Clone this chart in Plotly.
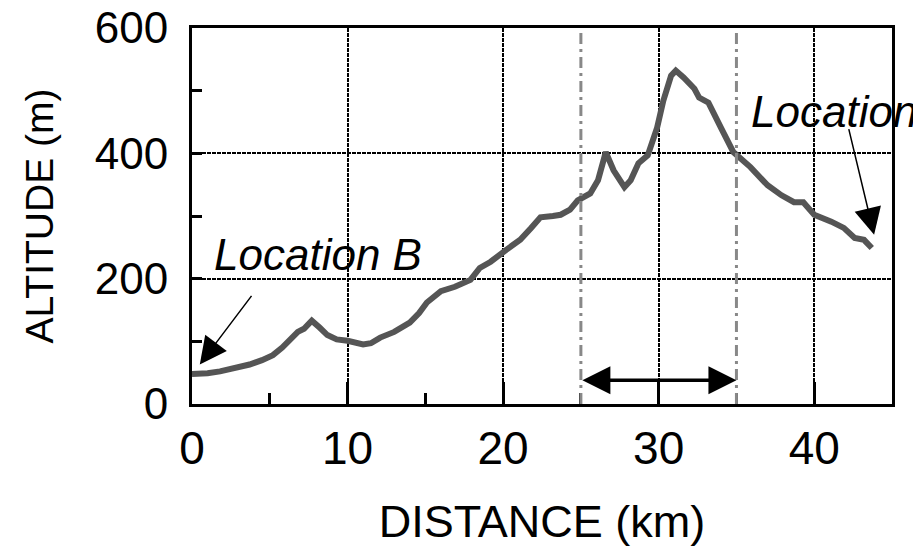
import plotly.graph_objects as go

# Altitude profile (distance km, altitude m)
distance_km = [0.0, 0.5, 1.0, 1.8, 2.8, 3.7, 4.5, 5.2, 5.8, 6.3, 6.8, 7.2, 7.7, 8.2, 8.7,
               9.3, 10.0, 11.0, 11.5, 12.1, 13.0, 14.0, 14.6, 15.1, 16.0, 16.9, 17.9,
               18.5, 19.2, 20.2, 21.1, 21.8, 22.4, 23.2, 23.7, 24.3, 24.8, 25.6, 26.1,
               26.6, 27.1, 27.8, 28.2, 28.7, 29.3, 29.9, 30.3, 30.8, 31.1, 31.6, 32.3,
               32.6, 33.2, 34.0, 34.8, 35.9, 37.0, 37.9, 38.7, 39.3, 40.0, 41.1, 41.9,
               42.6, 43.2, 43.7]
altitude_m = [48, 48, 49, 52, 57, 63, 70, 78, 90, 103, 115, 120, 133, 122, 110,
              103, 101, 95, 97, 106, 115, 130, 145, 162, 180, 187, 198,
              217, 227, 246, 262, 281, 298, 300, 302, 310, 325, 336, 357,
              402, 373, 346, 357, 384, 397, 441, 484, 524, 532, 521, 503,
              489, 481, 441, 402, 378, 349, 333, 322, 322, 302, 291, 281,
              265, 262, 249]

# Section of interest and annotation values
section_km = [25, 35]
section_arrow_alt = 38
x_range = [0, 45]
y_range = [0, 600]
x_ticks = [0, 10, 20, 30, 40]
y_ticks = [0, 200, 400, 600]

# Labels (text, text position, arrow tail, arrow head)
loc_b = dict(text="Location B", tx=1.3, ty=239, tail=(3.9, 175), head=(0.5, 63))
loc_a = dict(text="Location A", tx=35.8, ty=466, tail=(42.2, 441), head=(43.85, 270))

FONT = "Liberation Sans, Arial, sans-serif"

fig = go.Figure()

fig.add_trace(go.Scatter(
    x=distance_km, y=altitude_m, mode="lines",
    line=dict(color="#555555", width=6, shape="linear"),
    hoverinfo="skip", showlegend=False,
))

for xv in section_km:
    fig.add_shape(type="line", xref="x", yref="paper", x0=xv, x1=xv, y0=0, y1=1,
                  line=dict(color="#888888", width=3, dash="11px,5px,3px,5px"),
                  layer="above")

# double arrow
fig.add_annotation(x=section_km[1], y=section_arrow_alt, ax=section_km[0], ay=section_arrow_alt,
                   xref="x", yref="y", axref="x", ayref="y", text="", showarrow=True,
                   arrowhead=2, startarrowhead=2, arrowside="end+start",
                   arrowsize=1.6, startarrowsize=1.6, arrowwidth=3.5, arrowcolor="black")

for loc in (loc_b, loc_a):
    fig.add_annotation(x=loc["tx"], y=loc["ty"], xref="x", yref="y", text="<i>" + loc["text"] + "</i>",
                       showarrow=False, xanchor="left", yanchor="middle",
                       font=dict(family=FONT, size=44, color="black"))
    fig.add_annotation(x=loc["head"][0], y=loc["head"][1], ax=loc["tail"][0], ay=loc["tail"][1],
                       xref="x", yref="y", axref="x", ayref="y", text="", showarrow=True,
                       arrowhead=2, arrowsize=3.6, arrowwidth=1.5, arrowcolor="black")

fig.update_layout(
    width=913, height=552,
    margin=dict(l=192, r=21, t=28, b=148, autoexpand=False),
    paper_bgcolor="white", plot_bgcolor="white",
    font=dict(family=FONT, size=45, color="black"),
    showlegend=False,
)

fig.update_xaxes(
    range=x_range, tickvals=x_ticks, ticks="inside", ticklen=22, tickwidth=3, tickcolor="black",
    minor=dict(dtick=5, ticks="inside", ticklen=11, tickwidth=3, tickcolor="black", showgrid=False),
    showline=True, linewidth=3, linecolor="black", mirror=True,
    showgrid=True, gridcolor="black", gridwidth=1.5, griddash="4px,1px",
    zeroline=False, ticklabelstandoff=2, automargin=False,
    tickfont=dict(size=46),
    title=dict(text="DISTANCE (km)", font=dict(size=45), standoff=33),
)
fig.update_yaxes(
    range=y_range, tickvals=y_ticks, ticks="inside", ticklen=10, tickwidth=3, tickcolor="black",
    minor=dict(dtick=100, ticks="inside", ticklen=10, tickwidth=3, tickcolor="black", showgrid=False),
    showline=True, linewidth=3, linecolor="black", mirror=True,
    showgrid=True, gridcolor="black", gridwidth=1.5, griddash="4px,1px",
    zeroline=False, ticklabelstandoff=12, automargin=False,
    tickfont=dict(size=44),
    title=dict(text="ALTITUDE (m)", font=dict(size=39), standoff=30),
)

fig.write_html("out.html", config={"displayModeBar": False},
               post_script="document.body.style.margin='0';document.body.style.overflow='hidden';")
